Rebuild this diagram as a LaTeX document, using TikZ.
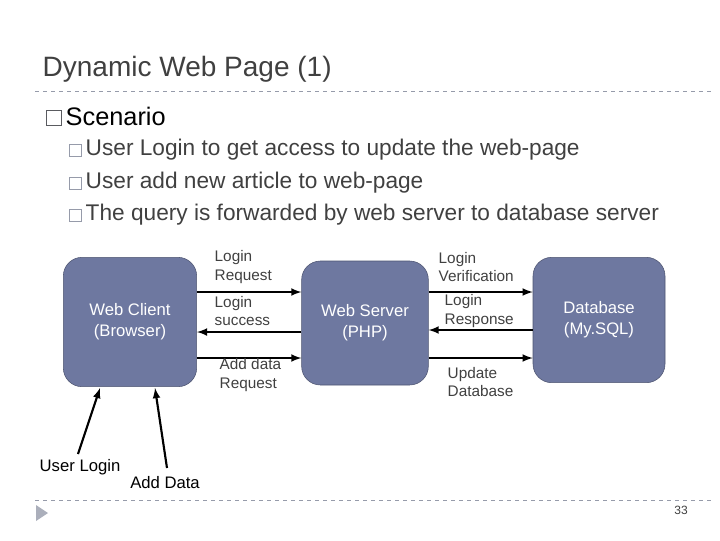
\documentclass[tikz,border=0pt]{standalone}
\usepackage{fontspec}
\setmainfont{Liberation Sans}
\usetikzlibrary{positioning}
\definecolor{boxfill}{RGB}{110,120,160}
\definecolor{textgray}{RGB}{64,64,64}
\definecolor{bulletgray}{RGB}{150,155,170}
\tikzset{
    tier/.style={draw=boxfill!70!black, fill=boxfill, rounded corners=14pt, text=white, align=center, font=\fontsize{12.5}{16}\selectfont},
    msg/.style={font=\fontsize{11.5}{14}\selectfont, text=textgray, align=left, anchor=west},
    flow/.style={-latex, line width=1.6pt},
    bullet/.style={draw=bulletgray, fill=white, minimum size=9pt, inner sep=0pt},
    item/.style={text=textgray, font=\fontsize{17}{19}\selectfont, anchor=west} }
\begin{document}
\begin{tikzpicture}[x=0.75pt, y=-0.75pt]
\useasboundingbox (0,0) rectangle (720,540);
% title
\node[anchor=west, text=textgray, font=\fontsize{21}{25}\selectfont] (title) at (38,69) {Dynamic Web Page (1)};
\draw[bulletgray, dashed] (35,91) -- (712,91);
\draw[bulletgray, dashed] (35,500) -- (712,500);
\fill[bulletgray!80] (36,505) -- (48,513) -- (36,521) -- cycle;
\node[text=textgray, font=\fontsize{9}{11}\selectfont] (page) at (681,510) {33};
% bullets
\node[bullet, minimum size=11pt, draw=textgray!70!bulletgray, line width=0.8pt] (b0) at (54,118) {};
\node[anchor=west, font=\fontsize{19}{22}\selectfont] (scen) at (61,116) {Scenario};
\foreach \y/\t in {150/User Login to get access to update the web-page,
                   183/User add new article to web-page,
                   215/The query is forwarded by web server to database server}{
  \node[bullet] at (75,\y) {};
  \node[item] at (81,\y) {\t};
}
% tiers
\node[tier, minimum width=100pt, minimum height=97pt] (client) at (130,322) {Web Client\\(Browser)};
\node[tier, minimum width=95pt, minimum height=93pt] (server) at (365,323) {Web Server\\(PHP)};
\node[tier, minimum width=99pt, minimum height=94pt] (db) at (599,320) {Database\\(My.SQL)};
% messages
\draw[flow] (client.east |- 0,292) -- (server.west |- 0,292);
\draw[flow] (server.west |- 0,332) -- (client.east |- 0,332);
\draw[flow] (client.east |- 0,358) -- (server.west |- 0,358);
\draw[flow] (server.east |- 0,292) -- (db.west |- 0,292);
\draw[flow] (db.west |- 0,330) -- (server.east |- 0,330);
\draw[flow] (server.east |- 0,358) -- (db.west |- 0,358);
\node[msg] at (210,267) {Login\\Request};
\node[msg] at (210,311) {Login\\success};
\node[msg] at (215,375) {Add data\\Request};
\node[msg] at (434,267) {Login\\Verification};
\node[msg] at (440,311) {Login\\Response};
\node[msg] at (443,382) {Update\\Database};
% user actions
\node[font=\fontsize{12.5}{15}\selectfont] (login) at (80,467) {User Login};
\node[font=\fontsize{12.5}{15}\selectfont] (add) at (165,483) {Add Data};
\coordinate (loginTail) at (78,454);
\coordinate (addTail) at (167,468);
\draw[flow] (loginTail) -- (100,388);
\draw[flow] (addTail) -- (155,388);
\end{tikzpicture}
\end{document}
